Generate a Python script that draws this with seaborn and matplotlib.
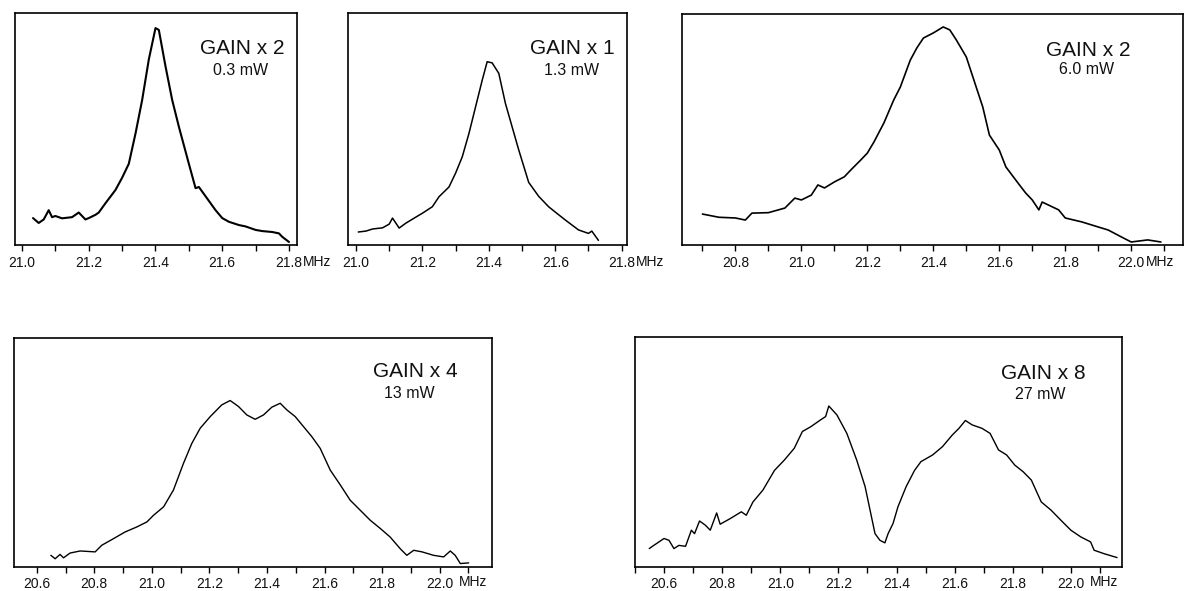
import matplotlib
matplotlib.use("Agg")
import matplotlib.pyplot as plt
import seaborn as sns

sns.set_theme(style="white")
plt.rcParams['font.family'] = ['Liberation Sans', 'DejaVu Sans']

# signal heights are read as a fraction of each box height (no y scale in the original)
p1_freq = [21.033, 21.05, 21.065, 21.08, 21.09, 21.1, 21.12, 21.15, 21.17, 21.19, 21.2, 21.22, 21.23,
           21.25, 21.28, 21.3, 21.32, 21.34, 21.36, 21.38, 21.40, 21.41, 21.43, 21.45, 21.47, 21.5,
           21.52, 21.53, 21.55, 21.58, 21.6, 21.62, 21.65, 21.67, 21.7, 21.72, 21.75, 21.77, 21.78, 21.8]
p1_signal = [0.116, 0.095, 0.11, 0.15, 0.12, 0.125, 0.115, 0.12, 0.14, 0.11, 0.116, 0.13, 0.14,
             0.18, 0.237, 0.29, 0.35, 0.48, 0.625, 0.80, 0.935, 0.927, 0.77, 0.625, 0.51, 0.35,
             0.245, 0.25, 0.21, 0.15, 0.116, 0.1, 0.086, 0.08, 0.065, 0.06, 0.056, 0.05, 0.035, 0.013]

p2_freq = [21.007, 21.03, 21.05, 21.08, 21.1, 21.11, 21.13, 21.15, 21.18, 21.2, 21.23, 21.25, 21.28,
           21.3, 21.32, 21.34, 21.36, 21.38, 21.395, 21.41, 21.43, 21.45, 21.47, 21.49, 21.52, 21.55,
           21.58, 21.6, 21.63, 21.67, 21.7, 21.71, 21.73]
p2_signal = [0.056, 0.06, 0.069, 0.074, 0.09, 0.116, 0.073, 0.094, 0.12, 0.137, 0.165, 0.208, 0.25,
             0.31, 0.38, 0.48, 0.595, 0.71, 0.79, 0.785, 0.74, 0.61, 0.51, 0.41, 0.27, 0.21,
             0.165, 0.142, 0.108, 0.065, 0.05, 0.06, 0.02]

p3_freq = [20.70, 20.75, 20.8, 20.83, 20.85, 20.9, 20.95, 20.98, 21.0, 21.03, 21.05, 21.07, 21.1,
           21.13, 21.15, 21.18, 21.2, 21.22, 21.25, 21.28, 21.3, 21.33, 21.35, 21.37, 21.4, 21.43,
           21.45, 21.47, 21.5, 21.52, 21.55, 21.57, 21.6, 21.62, 21.65, 21.68, 21.7, 21.72, 21.73,
           21.78, 21.8, 21.85, 21.9, 21.93, 21.97, 22.0, 22.05, 22.09]
p3_signal = [0.134, 0.12, 0.117, 0.108, 0.138, 0.14, 0.16, 0.203, 0.195, 0.216, 0.26, 0.247, 0.273,
             0.295, 0.325, 0.368, 0.398, 0.446, 0.528, 0.628, 0.684, 0.8, 0.853, 0.896, 0.918, 0.944,
             0.931, 0.887, 0.814, 0.727, 0.597, 0.476, 0.411, 0.338, 0.281, 0.225, 0.195, 0.152, 0.186,
             0.152, 0.117, 0.1, 0.078, 0.065, 0.035, 0.013, 0.022, 0.013]

p4_freq = [20.649, 20.664, 20.681, 20.693, 20.716, 20.751, 20.803, 20.826, 20.867, 20.907, 20.948,
           20.983, 21.006, 21.041, 21.075, 21.11, 21.139, 21.168, 21.203, 21.243, 21.272, 21.301,
           21.33, 21.359, 21.388, 21.417, 21.446, 21.469, 21.498, 21.527, 21.556, 21.585, 21.62,
           21.655, 21.689, 21.724, 21.759, 21.794, 21.828, 21.863, 21.886, 21.91, 21.939, 21.979,
           22.014, 22.037, 22.054, 22.072, 22.101]
p4_signal = [0.051, 0.036, 0.055, 0.04, 0.061, 0.07, 0.066, 0.095, 0.124, 0.153, 0.175,
             0.197, 0.226, 0.263, 0.336, 0.453, 0.54, 0.606, 0.657, 0.708, 0.727, 0.701,
             0.664, 0.645, 0.664, 0.698, 0.715, 0.686, 0.657, 0.613, 0.569, 0.518, 0.423,
             0.358, 0.292, 0.248, 0.204, 0.168, 0.131, 0.08, 0.051, 0.073, 0.066, 0.051,
             0.044, 0.07, 0.051, 0.015, 0.018]

p5_freq = [20.549, 20.56, 20.6, 20.617, 20.634, 20.651, 20.674, 20.694, 20.705, 20.722, 20.742,
           20.759, 20.781, 20.793, 20.827, 20.866, 20.883, 20.906, 20.94, 20.98, 21.014, 21.048,
           21.076, 21.105, 21.139, 21.156, 21.167, 21.195, 21.229, 21.263, 21.292, 21.309, 21.326,
           21.343, 21.36, 21.371, 21.388, 21.405, 21.433, 21.462, 21.484, 21.524, 21.558, 21.592,
           21.615, 21.637, 21.66, 21.694, 21.722, 21.751, 21.779, 21.807, 21.836, 21.864, 21.898,
           21.932, 21.966, 22.0, 22.034, 22.068, 22.08, 22.114, 22.159]
p5_signal = [0.08, 0.09, 0.124, 0.116, 0.08, 0.094, 0.09, 0.16, 0.145, 0.2, 0.182,
             0.16, 0.235, 0.186, 0.21, 0.24, 0.225, 0.283, 0.334, 0.42, 0.465, 0.516,
             0.589, 0.61, 0.64, 0.654, 0.70, 0.661, 0.581, 0.465, 0.349, 0.247, 0.145,
             0.116, 0.105, 0.145, 0.189, 0.262, 0.349, 0.42, 0.458, 0.487, 0.523, 0.574,
             0.603, 0.637, 0.618, 0.603, 0.581, 0.509, 0.487, 0.443, 0.414, 0.378, 0.283,
             0.247, 0.203, 0.16, 0.131, 0.109, 0.073, 0.058, 0.041]

gain_labels = ["GAIN x 2", "GAIN x 1", "GAIN x 2", "GAIN x 4", "GAIN x 8"]
power_labels = ["0.3 mW", "1.3 mW", "6.0 mW", "13 mW", "27 mW"]

W, H = 1184, 591
fig = plt.figure(figsize=(W / 100, H / 100), dpi=100)

# (left, right, top, bottom) in pixels, xlim, labelled ticks, minor ticks, unit text, text spots
panels = [
    dict(box=(15, 297, 13, 245), xlim=(20.979, 21.824), major=[21.0, 21.2, 21.4, 21.6, 21.8],
         minor=[21.1, 21.3, 21.5, 21.7], unit="MHz", uoff=10.2, gpos=(0.805, 0.849), ppos=(0.80, 0.754),
         lw=1.5, pad=4),
    dict(box=(348, 627, 13, 245), xlim=(20.976, 21.816), major=[21.0, 21.2, 21.4, 21.6, 21.8],
         minor=[21.1, 21.3, 21.5, 21.7], unit="MHz", uoff=10.5, gpos=(0.805, 0.849), ppos=(0.80, 0.754),
         lw=1.1, pad=4),
    dict(box=(682, 1183, 14, 245), xlim=(20.638, 22.157), major=[20.8, 21.0, 21.2, 21.4, 21.6, 21.8, 22.0],
         minor=[20.7, 20.9, 21.1, 21.3, 21.5, 21.7, 21.9, 22.1], unit="MHz", uoff=10.2,
         gpos=(0.81, 0.844), ppos=(0.808, 0.758), lw=1.2, pad=4),
    dict(box=(14, 492, 338, 567), xlim=(20.521, 22.182),
         major=[20.6, 20.8, 21.0, 21.2, 21.4, 21.6, 21.8, 22.0],
         minor=[20.7, 20.9, 21.1, 21.3, 21.5, 21.7, 21.9, 22.1], unit="MHz", uoff=14,
         gpos=(0.839, 0.853), ppos=(0.826, 0.758), lw=1.0, pad=3),
    dict(box=(635, 1122, 337, 567), xlim=(20.520, 22.176),
         major=[20.6, 20.8, 21.0, 21.2, 21.4, 21.6, 21.8, 22.0],
         minor=[20.5, 20.7, 20.9, 21.1, 21.3, 21.5, 21.7, 21.9, 22.1], unit="MHz", uoff=13.5,
         gpos=(0.838, 0.842), ppos=(0.832, 0.752), lw=1.0, pad=3),
]
series = [(p1_freq, p1_signal), (p2_freq, p2_signal), (p3_freq, p3_signal),
          (p4_freq, p4_signal), (p5_freq, p5_signal)]

for i, (p, (fx, fy)) in enumerate(zip(panels, series)):
    l, r, t, b = p["box"]
    ax = fig.add_axes([l / W, 1 - b / H, (r - l) / W, (b - t) / H])
    sns.lineplot(x=fx, y=fy, ax=ax, color="black", lw=p["lw"], estimator=None, sort=False)
    ax.set_xlim(*p["xlim"])
    ax.set_ylim(0, 1)
    ax.set_yticks([])
    ax.set_xticks(p["major"])
    ax.set_xticks(p["minor"], minor=True)
    ax.set_xticklabels([f"{v:.1f}" for v in p["major"]])
    ax.tick_params(axis="x", which="both", direction="out", length=4, width=1,
                   bottom=True, color="black", labelsize=10, pad=p["pad"],
                   labelcolor="#111111")
    for s in ax.spines.values():
        s.set_color("black")
        s.set_linewidth(1.2)
        s.set_visible(True)
    ax.annotate(p["unit"], xy=(p["major"][-1], 0), xycoords=ax.get_xaxis_transform(),
                xytext=(p["uoff"], -(3 + p["pad"])), textcoords="offset points",
                ha="left", va="top", fontsize=10, color="#111111", annotation_clip=False)
    ax.text(*p["gpos"], gain_labels[i], transform=ax.transAxes, ha="center", va="center",
            fontsize=15, color="#111111")
    ax.text(*p["ppos"], power_labels[i], transform=ax.transAxes, ha="center", va="center",
            fontsize=11.5, color="#111111")
    ax.set_xlabel("")
    ax.set_ylabel("")

fig.savefig("out.png", dpi=100)
